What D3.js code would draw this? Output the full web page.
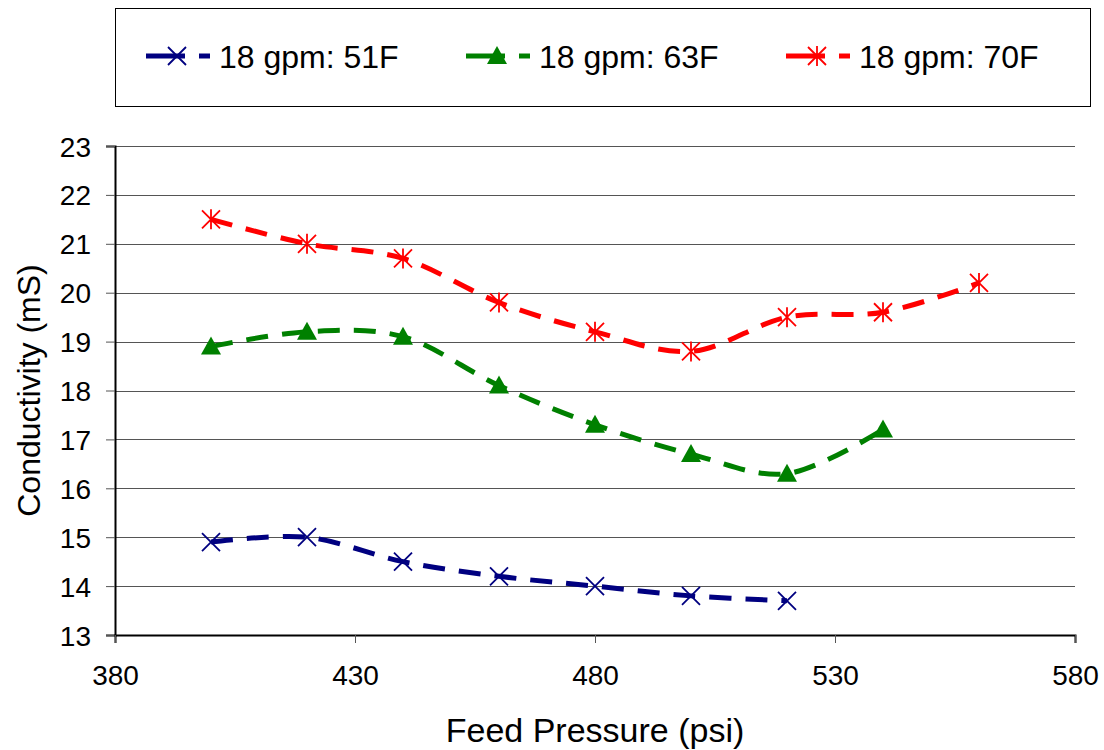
<!DOCTYPE html>
<html>
<head>
<meta charset="utf-8">
<script src="https://cdn.jsdelivr.net/npm/d3@7"></script>
<style>
  body { margin: 0; background: #fff; }
  svg text { font-family: "Liberation Sans", Arial, sans-serif; fill: #000; }
</style>
</head>
<body>
<div id="chart"></div>
<script>
// data
var pressure = [400, 420, 440, 460, 480, 500, 520, 540, 560];
var seriesNames = ['18 gpm: 51F', '18 gpm: 63F', '18 gpm: 70F'];
var cond51 = [14.9, 15.0, 14.5, 14.2, 14.0, 13.8, 13.7];
var cond63 = [18.9, 19.2, 19.1, 18.1, 17.3, 16.7, 16.3, 17.2];
var cond70 = [21.5, 21.0, 20.7, 19.8, 19.2, 18.8, 19.5, 19.6, 20.2];
var xTicks = [380, 430, 480, 530, 580];
var yTicks = [13, 14, 15, 16, 17, 18, 19, 20, 21, 22, 23];

var colors = ['#000080', '#008000', '#ff0000'];
var markers = ['x', 'triangle', 'asterisk'];

var series = [cond51, cond63, cond70].map(function (vals, i) {
    return {
        name: seriesNames[i],
        color: colors[i],
        marker: markers[i],
        values: vals.map(function (v, j) { return {x: pressure[j], y: v}; })
    };
});

var W = 1104, H = 750;
var margin = {top: 146, right: 29, bottom: 115, left: 115};
var width = W - margin.left - margin.right, height = H - margin.top - margin.bottom;

var svg = d3.select('#chart').append('svg')
    .attr('width', W)
    .attr('height', H);

var x = d3.scaleLinear().domain([380, 580]).range([0, width]);
var y = d3.scaleLinear().domain([13, 23]).range([height, 0]);

var g = svg.append('g').attr('transform', 'translate(' + margin.left + ',' + margin.top + ')');

// gridlines
g.selectAll('.grid')
    .data(yTicks.slice(1))
    .enter().append('line')
    .attr('class', 'grid')
    .attr('x1', 0).attr('x2', width)
    .attr('y1', function (d) { return Math.round(y(d)) + 0.5; })
    .attr('y2', function (d) { return Math.round(y(d)) + 0.5; })
    .style('stroke', '#555')
    .style('stroke-width', 1);

// axes
var yAxis = g.append('g')
    .call(d3.axisLeft(y).tickValues(yTicks).tickSize(9).tickPadding(15));
var xAxis = g.append('g')
    .attr('transform', 'translate(0,' + height + ')')
    .call(d3.axisBottom(x).tickValues(xTicks).tickSize(8).tickPadding(22));

[xAxis, yAxis].forEach(function (a) {
    a.select('.domain').style('stroke', '#000').style('stroke-width', 2);
    a.selectAll('.tick line').style('stroke', '#555');
    a.selectAll('text').style('font-size', '28px').style('font-family', '"Liberation Sans", Arial, sans-serif');
});
yAxis.selectAll('.tick text').attr('dy', '0.36em');

// axis titles
svg.append('text')
    .attr('x', margin.left + width / 2)
    .attr('y', 742)
    .attr('text-anchor', 'middle')
    .style('font-size', '34px')
    .text('Feed Pressure (psi)');

svg.append('text')
    .attr('transform', 'translate(40,' + (margin.top + height / 2) + ') rotate(-90)')
    .attr('text-anchor', 'middle')
    .style('font-size', '32px')
    .text('Conductivity (mS)');

// marker drawing
function drawMarker(sel, type, color) {
    var s = 9;
    if (type === 'triangle') {
        sel.append('path')
            .attr('d', 'M0,' + (-s - 1) + 'L' + (s + 1) + ',' + (s - 1) + 'L' + (-s - 1) + ',' + (s - 1) + 'Z')
            .style('fill', color);
    } else {
        sel.append('path')
            .attr('d', 'M' + (-s) + ',' + (-s) + 'L' + s + ',' + s + 'M' + (-s) + ',' + s + 'L' + s + ',' + (-s) +
                (type === 'asterisk' ? 'M0,' + (-s - 1) + 'L0,' + (s + 1) : ''))
            .style('fill', 'none')
            .style('stroke', color)
            .style('stroke-width', 1.8);
    }
}

var line = d3.line()
    .x(function (d) { return x(d.x); })
    .y(function (d) { return y(d.y); })
    .curve(d3.curveCardinal.tension(0));

series.forEach(function (s) {
    g.append('path')
        .datum(s.values)
        .attr('d', line)
        .style('fill', 'none')
        .style('stroke', s.color)
        .style('stroke-width', 5)
        .style('stroke-dasharray', '22,14');

    g.selectAll(null)
        .data(s.values)
        .enter().append('g')
        .attr('transform', function (d) { return 'translate(' + x(d.x) + ',' + y(d.y) + ')'; })
        .each(function () { drawMarker(d3.select(this), s.marker, s.color); });
});

// legend
svg.append('rect')
    .attr('x', 115.5).attr('y', 8.5)
    .attr('width', 975).attr('height', 98)
    .style('fill', '#fff')
    .style('stroke', '#000')
    .style('stroke-width', 1);

var legend = svg.selectAll('.legend')
    .data(series)
    .enter().append('g')
    .attr('class', 'legend')
    .attr('transform', function (d, i) { return 'translate(' + (146 + i * 320) + ',56)'; });

legend.append('line')
    .attr('x1', 0).attr('x2', 39).attr('y1', 0).attr('y2', 0)
    .style('stroke', function (d) { return d.color; })
    .style('stroke-width', 5);
legend.append('line')
    .attr('x1', 53).attr('x2', 64).attr('y1', 0).attr('y2', 0)
    .style('stroke', function (d) { return d.color; })
    .style('stroke-width', 5);
legend.append('g')
    .attr('transform', 'translate(31,0)')
    .each(function (d) { drawMarker(d3.select(this), d.marker, d.color); });
legend.append('text')
    .attr('x', 73)
    .attr('dy', '0.36em')
    .style('font-size', '32px')
    .text(function (d) { return d.name; });
</script>
</body>
</html>
